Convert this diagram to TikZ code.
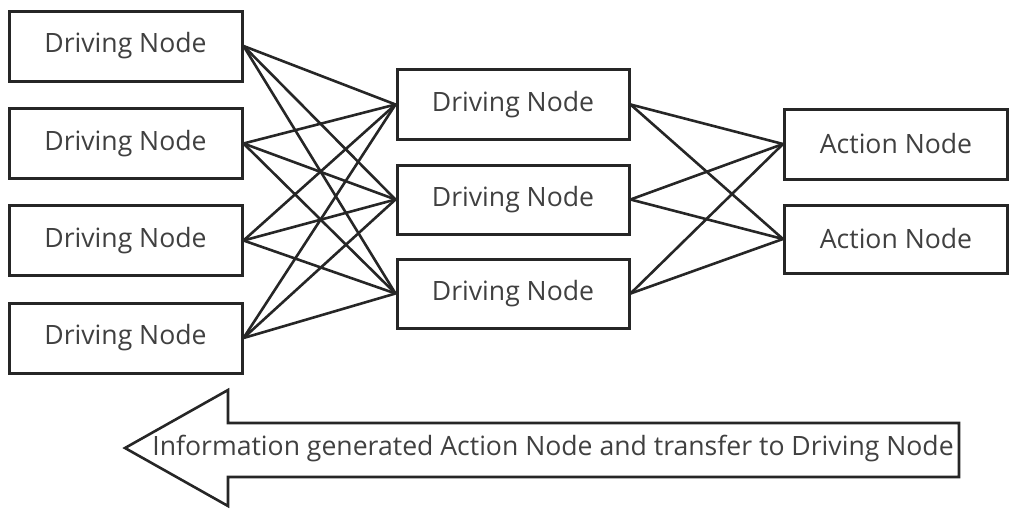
\documentclass[tikz,border=0pt]{standalone}
\usepackage{fontspec}
\setmainfont{Open Sans}
\begin{document}
\begin{tikzpicture}[x=1pt,y=-1pt,
  txt/.style={font=\fontsize{26.6}{30}\selectfont,text=black!75},
  box/.style={txt,draw=black!85,line width=3pt,fill=white,inner sep=0pt},
  link/.style={draw=black!85,line width=2.6pt}]
\useasboundingbox (0,0) rectangle (1009,509);
% left column
\node[box,minimum width=233pt,minimum height=70pt] (l1) at (125.5,46) {Driving Node};
\node[box,minimum width=233pt,minimum height=70pt] (l2) at (125.5,143.5) {Driving Node};
\node[box,minimum width=233pt,minimum height=70pt] (l3) at (125.5,240.5) {Driving Node};
\node[box,minimum width=233pt,minimum height=70pt] (l4) at (125.5,338) {Driving Node};
% middle column
\node[box,minimum width=232pt,minimum height=70pt] (m1) at (513,104.5) {Driving Node};
\node[box,minimum width=232pt,minimum height=69pt] (m2) at (513,199.5) {Driving Node};
\node[box,minimum width=232pt,minimum height=69pt] (m3) at (513,293.5) {Driving Node};
% right column
\node[box,minimum width=223pt,minimum height=70pt] (r1) at (896,144) {Action Node};
\node[box,minimum width=223pt,minimum height=68pt] (r2) at (896,239) {Action Node};
% connectors
\foreach \a in {l1,l2,l3,l4}{\foreach \b in {m1,m2,m3}{\draw[link] (\a.east) -- (\b.west);}}
\foreach \a in {m1,m2,m3}{\foreach \b in {r1,r2}{\draw[link] (\a.east) -- (\b.west);}}
% big arrow
\draw[draw=black!85,line width=2.6pt,line join=miter] (125,448) -- (228,390) -- (228,423) -- (959,423) -- (959,477) -- (228,477) -- (228,506) -- cycle;
\node[txt,inner sep=0pt] (lbl) at (553,449) {Information generated Action Node and transfer to Driving Node};
\end{tikzpicture}
\end{document}
